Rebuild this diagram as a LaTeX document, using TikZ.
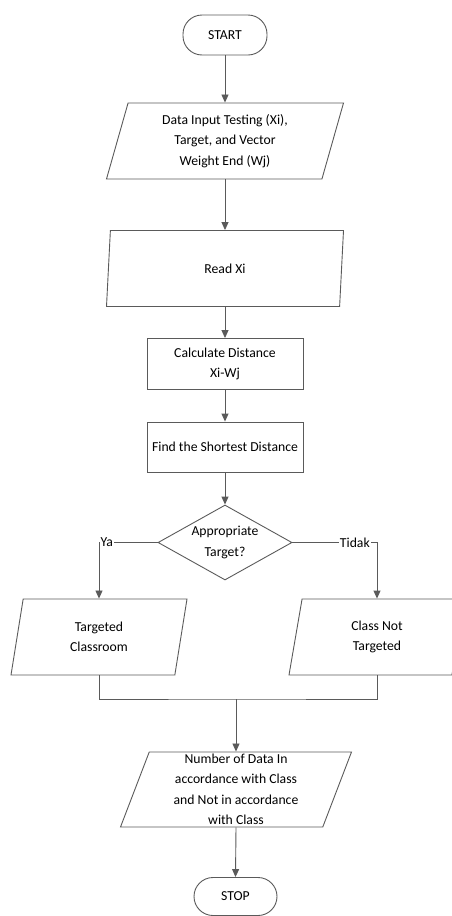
\documentclass[tikz,border=0pt]{standalone}
\usepackage{fontspec}
\setmainfont{Carlito}
\usetikzlibrary{shapes.geometric,arrows.meta}
\definecolor{FCline}{HTML}{5A5A5A}
\tikzset{
  fcline/.style={draw=FCline,line width=0.9pt},
  fcarrow/.style={fcline,-{Triangle[length=8pt,width=7pt]}},
  fcterm/.style={draw=FCline,line width=0.9pt,rounded corners=19pt,minimum width=84pt,minimum height=40pt,inner sep=0pt},
  fcproc/.style={draw=FCline,line width=0.9pt,minimum width=156pt,minimum height=51pt,inner sep=0pt,align=center},
  fcio/.style={trapezium,trapezium left angle=68,trapezium right angle=112,trapezium stretches body,draw=FCline,line width=0.9pt,minimum height=76pt,inner sep=0pt,align=center},
  fcdec/.style={diamond,aspect=1.79,draw=FCline,line width=0.9pt,minimum width=134pt,minimum height=75pt,inner sep=0pt,align=center},
  fclbl/.style={fill=white,inner sep=1pt}
}
\begin{document}
\begin{tikzpicture}[x=1pt, y=1pt, yscale=-1, font=\fontsize{13.7pt}{20.5pt}\selectfont]
  \useasboundingbox (0,0) rectangle (452,916);
  \clip (0,0) rectangle (452,916);
  \node[fcterm] (start) at (225,35) {START};
  \node[fcio,minimum width=237pt] (input) at (225,141) {Data Input Testing (Xi),\\Target, and Vector\\Weight End (Wj)};
  \node[fcio,minimum width=237pt] (read) at (225,268.5) {Read Xi};
  \node[fcproc] (calc) at (225,364) {Calculate Distance\\Xi-Wj};
  \node[fcproc,minimum height=50pt] (short) at (225,447) {Find the Shortest Distance};
  \node[fcdec] (target) at (225,542.5) {Appropriate\\Target?};
  \node[fcio,minimum width=176pt] (yes) at (99,637) {Targeted\\Classroom};
  \node[fcio,minimum width=176pt] (no) at (377,637) {Class Not\\Targeted};
  \coordinate (join) at (236,699);
  \node[fcio,minimum width=231pt,minimum height=75pt] (result) at (236,789.5) {Number of Data In\\accordance with Class\\and Not in accordance\\with Class};
  \node[fcterm,minimum width=83pt,minimum height=38pt] (stop) at (235.5,896.5) {STOP};
  \draw[fcarrow] (start.south) -- (input.center |- input.north);
  \draw[fcarrow] (input.center |- input.south) -- (read.center |- read.north);
  \draw[fcarrow] (read.center |- read.south) -- (calc.north);
  \draw[fcarrow] (calc.south) -- (short.north);
  \draw[fcarrow] (short.south) -- (target.north);
  \draw[fcarrow] (target.west) -| (yes.center |- yes.north);
  \draw[fcarrow] (target.east) -| (no.center |- no.north);
  \draw[fcline] (yes.center |- yes.south) |- (join) -| (no.center |- no.south);
  \draw[fcarrow] (join) -- (result.center |- result.north);
  \draw[fcarrow] (result.center |- result.south) -- (stop.north);
  \node[fclbl,anchor=west,xshift=0.5pt] (ya) at (yes.center |- target.west) {Ya};
  \node[fclbl,anchor=east,xshift=-6pt] (tidak) at (no.center |- target.east) {Tidak};
\end{tikzpicture}
\end{document}
